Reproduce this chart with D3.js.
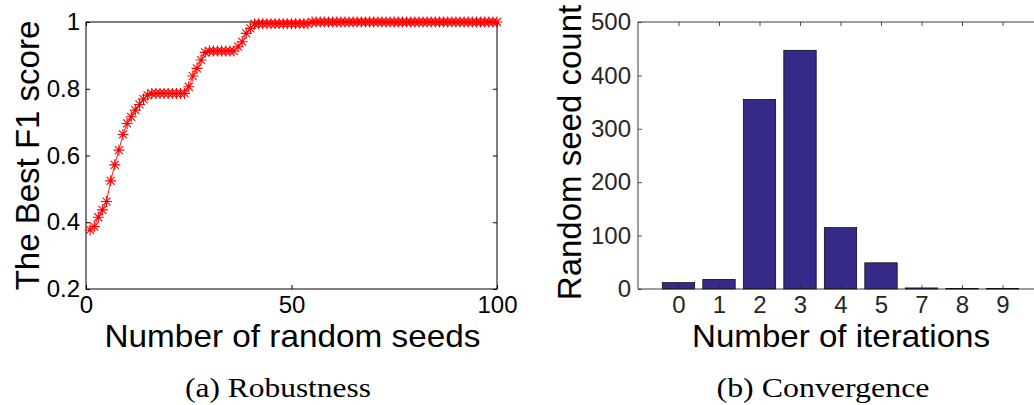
<!DOCTYPE html>
<html>
<head>
<meta charset="utf-8">
<script src="https://cdn.jsdelivr.net/npm/d3@7"></script>
<style>
  html, body { margin: 0; padding: 0; background: #fff; }
  svg { display: block; }
  .sans, .sans text { font-family: "Liberation Sans", Arial, Helvetica, sans-serif; }
  .serif { font-family: "Liberation Serif", "DejaVu Serif", serif; }
</style>
</head>
<body>
<svg id="chart" width="1034" height="405"></svg>
<script>
// (a) best F1 score reached after a given number of random seeds
const seedCounts = [
  1, 2, 3, 4, 5, 6, 7, 8, 9, 10,
  11, 12, 13, 14, 15, 16, 17, 18, 19, 20,
  21, 22, 23, 24, 25, 26, 27, 28, 29, 30,
  31, 32, 33, 34, 35, 36, 37, 38, 39, 40,
  41, 42, 43, 44, 45, 46, 47, 48, 49, 50,
  51, 52, 53, 54, 55, 56, 57, 58, 59, 60,
  61, 62, 63, 64, 65, 66, 67, 68, 69, 70,
  71, 72, 73, 74, 75, 76, 77, 78, 79, 80,
  81, 82, 83, 84, 85, 86, 87, 88, 89, 90,
  91, 92, 93, 94, 95, 96, 97, 98, 99, 100
];
const bestF1 = [
  0.377, 0.387, 0.415, 0.437, 0.462, 0.524, 0.572, 0.616, 0.663, 0.696,
  0.716, 0.736, 0.753, 0.769, 0.781, 0.786, 0.786, 0.786, 0.786, 0.786,
  0.786, 0.786, 0.786, 0.786, 0.806, 0.838, 0.861, 0.886, 0.909, 0.913,
  0.913, 0.913, 0.913, 0.913, 0.913, 0.913, 0.926, 0.941, 0.966, 0.981,
  0.994, 0.995, 0.995, 0.995, 0.995, 0.995, 0.995, 0.995, 0.995, 0.995,
  0.995, 0.995, 0.995, 0.995, 1.0, 1.0, 1.0, 1.0, 1.0, 1.0,
  1.0, 1.0, 1.0, 1.0, 1.0, 1.0, 1.0, 1.0, 1.0, 1.0,
  1.0, 1.0, 1.0, 1.0, 1.0, 1.0, 1.0, 1.0, 1.0, 1.0,
  1.0, 1.0, 1.0, 1.0, 1.0, 1.0, 1.0, 1.0, 1.0, 1.0,
  1.0, 1.0, 1.0, 1.0, 1.0, 1.0, 1.0, 1.0, 1.0, 1.0
];
const robustXTicks = [0, 50, 100];
const robustYTicks = [0.2, 0.4, 0.6, 0.8, 1];

// (b) how many random seeds converged after a given number of iterations
const iterations = ["0", "1", "2", "3", "4", "5", "7", "8", "9"];
const seedCount = [12, 18, 355, 447, 115, 49, 2, 1, 1];
const countTicks = [0, 100, 200, 300, 400, 500];

const svg = d3.select("#chart");
svg.append("rect").attr("width", 1034).attr("height", 405).attr("fill", "#fff");

const plotTop = 22, plotBottom = 289;

// ---------- panel (a) ----------
const ax = { left: 86, right: 497 };
const xA = d3.scaleLinear().domain([0, 100]).range([ax.left, ax.right]);
const yA = d3.scaleLinear().domain([0.2, 1]).range([plotBottom, plotTop]);
const gA = svg.append("g").attr("class", "sans");

const fmtA = d => String(d);
function styleAxis(g, color, width) {
  g.attr("font-family", null).attr("font-size", 24);
  g.select(".domain").remove();
  g.selectAll(".tick line").attr("stroke", color).attr("stroke-width", width);
  g.selectAll(".tick text").attr("fill", color);
}

gA.append("g").attr("transform", `translate(0,${plotBottom})`)
  .call(d3.axisBottom(xA).tickValues(robustXTicks).tickFormat(fmtA).tickSize(-4).tickPadding(7))
  .call(g => styleAxis(g, "#000", 1));
gA.append("g").attr("transform", `translate(0,${plotTop})`)
  .call(d3.axisTop(xA).tickValues(robustXTicks).tickFormat("").tickSize(-4))
  .call(g => styleAxis(g, "#000", 1));
gA.append("g").attr("transform", `translate(${ax.left},0)`)
  .call(d3.axisLeft(yA).tickValues(robustYTicks).tickFormat(fmtA).tickSize(-4).tickPadding(6))
  .call(g => styleAxis(g, "#000", 1));
gA.append("g").attr("transform", `translate(${ax.right},0)`)
  .call(d3.axisRight(yA).tickValues(robustYTicks).tickFormat("").tickSize(-4))
  .call(g => styleAxis(g, "#000", 1));
gA.append("rect")
  .attr("x", ax.left).attr("y", plotTop)
  .attr("width", ax.right - ax.left).attr("height", plotBottom - plotTop)
  .attr("fill", "none").attr("stroke", "#000").attr("stroke-width", 1);

const pts = seedCounts.map((s, i) => [s, bestF1[i]]);
gA.append("path")
  .attr("d", d3.line().x(d => xA(d[0])).y(d => yA(d[1]))(pts))
  .attr("fill", "none").attr("stroke", "#ff0000").attr("stroke-width", 0.9);
// asterisk marker: a plus sign overlaid with a cross
const star = "M-5.5,0H5.5M0,-5.5V5.5M-4,-4L4,4M-4,4L4,-4";
gA.append("g").selectAll("path").data(pts).join("path")
  .attr("transform", d => `translate(${xA(d[0])},${yA(d[1])})`)
  .attr("d", star)
  .attr("fill", "none").attr("stroke", "#ff0000").attr("stroke-width", 1.1);

gA.append("text")
  .attr("x", (ax.left + ax.right) / 2 + 1).attr("y", 347)
  .attr("text-anchor", "middle").attr("font-size", 33).attr("fill", "#000")
  .attr("textLength", 376).attr("lengthAdjust", "spacingAndGlyphs")
  .style("font-size", "32px")
  .text("Number of random seeds");
gA.append("text")
  .attr("transform", `translate(39,${(plotTop + plotBottom) / 2}) rotate(-90)`)
  .attr("text-anchor", "middle").attr("font-size", 33).attr("fill", "#000")
  .text("The Best F1 score");

svg.append("text").attr("class", "serif")
  .attr("x", 278).attr("y", 397).attr("text-anchor", "middle")
  .attr("font-size", 27).attr("fill", "#000")
  .attr("textLength", 186).attr("lengthAdjust", "spacingAndGlyphs")
  .text("(a) Robustness");

// ---------- panel (b) ----------
const bx = { left: 638 };
const step = 40.5;
const xB = d3.scaleLinear().domain([0, iterations.length + 1]).range([bx.left, bx.left + step * (iterations.length + 1)]);
const yB = d3.scaleLinear().domain([0, 500]).range([plotBottom, plotTop]);
const idx = iterations.map((_, i) => i + 1);
const gray = "#262626";
const gB = svg.append("g").attr("class", "sans");

gB.append("g").selectAll("rect").data(seedCount).join("rect")
  .attr("x", (d, i) => xB(idx[i] - 0.4))
  .attr("width", xB(0.8) - xB(0))
  .attr("y", d => yB(d))
  .attr("height", d => yB(0) - yB(d))
  .attr("fill", "#352a87").attr("stroke", "#000").attr("stroke-width", 0.7);

gB.append("g").attr("transform", `translate(0,${plotBottom})`)
  .call(d3.axisBottom(xB).tickValues(idx).tickFormat(i => iterations[i - 1]).tickSize(-4).tickPadding(7))
  .call(g => styleAxis(g, gray, 0.8));
gB.append("g").attr("transform", `translate(0,${plotTop})`)
  .call(d3.axisTop(xB).tickValues(idx).tickFormat("").tickSize(-4))
  .call(g => styleAxis(g, gray, 0.8));
gB.append("g").attr("transform", `translate(${bx.left},0)`)
  .call(d3.axisLeft(yB).tickValues(countTicks).tickFormat(String).tickSize(-4).tickPadding(7))
  .call(g => styleAxis(g, gray, 0.8));
gB.append("path")
  .attr("d", `M${xB.range()[1]},${plotTop}H${bx.left}V${plotBottom}H${xB.range()[1]}`)
  .attr("fill", "none").attr("stroke", gray).attr("stroke-width", 0.9);

gB.append("text")
  .attr("x", 841).attr("y", 347)
  .attr("text-anchor", "middle").attr("fill", "#000")
  .attr("textLength", 298).attr("lengthAdjust", "spacingAndGlyphs")
  .style("font-size", "32px")
  .text("Number of iterations");
gB.append("text")
  .attr("transform", `translate(581,${(plotTop + plotBottom) / 2 - 3}) rotate(-90)`)
  .attr("text-anchor", "middle").attr("font-size", 33).attr("fill", "#000")
  .text("Random seed count");

svg.append("text").attr("class", "serif")
  .attr("x", 823).attr("y", 397).attr("text-anchor", "middle")
  .attr("font-size", 27).attr("fill", "#000")
  .attr("textLength", 213).attr("lengthAdjust", "spacingAndGlyphs")
  .text("(b) Convergence");
</script>
</body>
</html>
